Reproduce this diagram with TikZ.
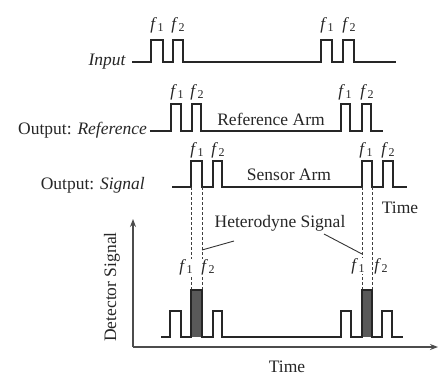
\documentclass[tikz,border=0pt]{standalone}
\usepackage{fontspec}
\setmainfont{Liberation Serif}
\usetikzlibrary{arrows.meta}
\newcommand\flab[1]{\textit{f}\kern0.6pt\raisebox{-0.35ex}{\fontsize{12}{12}\selectfont #1}}
\begin{document}
\begin{tikzpicture}[x=1pt,y=-1pt,
  wave/.style={line width=1.3pt,draw=black!85,line join=miter},
  dash line/.style={line width=0.9pt,draw=black!75,dash pattern=on 3pt off 2pt},
  axisline/.style={line width=1.1pt,draw=black!70,-{Stealth[length=8pt,width=6pt]}},
  txt/.style={inner sep=1pt,text=black!85,font=\fontsize{17.5}{20}\selectfont},
  fl/.style={inner sep=0.5pt,text=black!85,font=\fontsize{17}{19}\selectfont},
  flw/.style={fl,fill=white},
  conn/.style={line width=0.9pt,draw=black!80}]
\useasboundingbox (0,0) rectangle (438,378);
% Input
\draw[wave] (132,62) -- (151,62) -- (151,40) -- (163,40) -- (163,62) -- (173,62) -- (173,40) -- (183,40) -- (183,62) -- (321,62) -- (321,40) -- (332,40) -- (332,62) -- (343,62) -- (343,40) -- (354,40) -- (354,62) -- (396,62);
% Reference
\draw[wave] (150,131) -- (171,131) -- (171,104) -- (181,104) -- (181,131) -- (192,131) -- (192,104) -- (201,104) -- (201,131) -- (341,131) -- (341,104) -- (350,104) -- (350,131) -- (362,131) -- (362,104) -- (371,104) -- (371,131) -- (383,131);
% Signal
\draw[wave] (172,187) -- (191,187) -- (191,161) -- (202,161) -- (202,187) -- (213,187) -- (213,161) -- (222,161) -- (222,187) -- (362,187) -- (362,161) -- (372,161) -- (372,187) -- (383,187) -- (383,161) -- (393,161) -- (393,187) -- (407,187);
% dashed guides
\draw[dash line] (191,187) -- (191,290);
\draw[dash line] (202,187) -- (202,290);
\draw[dash line] (362,187) -- (362,290);
\draw[dash line] (372,187) -- (372,290);
% Detector
\fill[black!65] (191,290) rectangle (202,337);
\fill[black!65] (362,290) rectangle (372,337);
\draw[wave] (161,337) -- (170,337) -- (170,311) -- (181,311) -- (181,337) -- (191,337) -- (191,290) -- (202,290) -- (202,337) -- (213,337) -- (213,311) -- (222,311) -- (222,337) -- (341,337) -- (341,311) -- (351,311) -- (351,337) -- (362,337) -- (362,290) -- (372,290) -- (372,337) -- (382,337) -- (382,311) -- (392,311) -- (392,337) -- (403,337);
% axes
\coordinate (org) at (133,347);
\coordinate (ytip) at (133,219);
\coordinate (xtip) at (438,347);
\draw[axisline] (org) -- (ytip);
\draw[axisline] (org) -- (xtip);
% f labels
\node[fl] (i1) at (157,25) {\flab{1}};
\node[fl] (i2) at (178,25) {\flab{2}};
\node[fl] (i3) at (327,25) {\flab{1}};
\node[fl] (i4) at (349,25) {\flab{2}};
\node[fl] (r1) at (177,92) {\flab{1}};
\node[fl] (r2) at (197,92) {\flab{2}};
\node[fl] (r3) at (345,92) {\flab{1}};
\node[fl] (r4) at (367,92) {\flab{2}};
\node[fl] (s1) at (197,150) {\flab{1}};
\node[fl] (s2) at (218,150) {\flab{2}};
\node[fl] (s3) at (366,150) {\flab{1}};
\node[fl] (s4) at (388,150) {\flab{2}};
\node[flw] (d1) at (186,267) {\flab{1}};
\node[flw] (d2) at (208,267) {\flab{2}};
\node[flw] (d3) at (358,266) {\flab{1}};
\node[flw] (d4) at (381,266) {\flab{2}};
% texts
\node[txt,anchor=east] (tin) at (127,62) {\textit{Input}};
\node[txt,anchor=east] (tref) at (148,130) {Output: \textit{Reference}};
\node[txt,anchor=east] (tsig) at (146,185) {Output: \textit{Signal}};
\node[txt] (tra) at (271,119) {Reference Arm};
\node[txt] (tsa) at (289,175) {Sensor Arm};
\node[txt] (ttime) at (400,208) {Time};
\node[txt] (thet) at (280,223) {Heterodyne Signal};
\node[txt,rotate=90] (tdet) at (112,287) {Detector Signal};
\node[txt] (ttime2) at (287,367) {Time};
% heterodyne connectors
\coordinate (hl) at (234,241);
\coordinate (hle) at (202,250);
\coordinate (hr) at (324,234);
\coordinate (hre) at (362,254);
\draw[conn] (hl) -- (hle);
\draw[conn] (hr) -- (hre);
\end{tikzpicture}
\end{document}
